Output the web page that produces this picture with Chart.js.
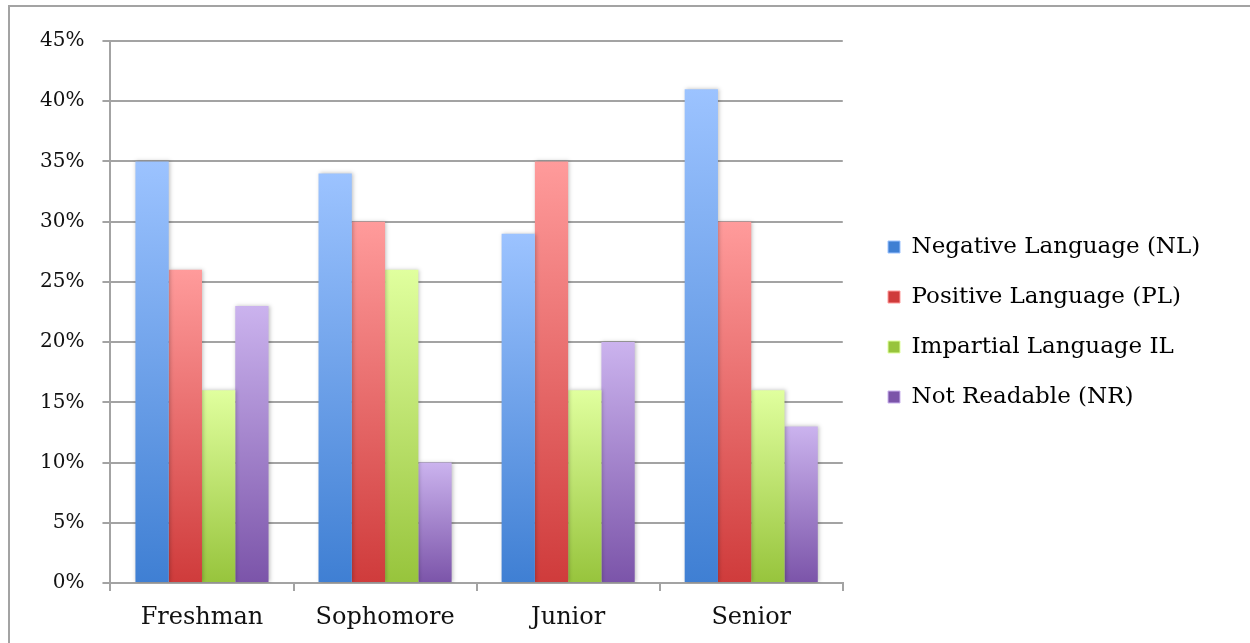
<!DOCTYPE html>
<html>
<head>
<meta charset="utf-8">
<script src="https://cdn.jsdelivr.net/npm/chart.js@4.4.1/dist/chart.umd.min.js"></script>
<style>
  body { margin: 0; background: #fff; }
  #wrap { position: relative; width: 1250px; height: 643px; }
  #frame { position: absolute; left: 8px; top: 5px; right: -4px; bottom: -4px;
           border-top: 2px solid #a3a3a3; border-left: 2px solid #a3a3a3; }
  canvas { position: absolute; left: 0; top: 0; }
</style>
</head>
<body>
<div id="wrap">
  <div id="frame"></div>
  <canvas id="myBarChart" width="1250" height="643"></canvas>
</div>
<script>
const categories = ['Freshman', 'Sophomore', 'Junior', 'Senior'];
const negativeLang = [35, 34, 29, 41];
const positiveLang = [26, 30, 35, 30];
const impartialLang = [16, 26, 16, 16];
const notReadable = [23, 10, 20, 13];

// top colour, bottom colour for each series
const colours = [
  ['#9cc3ff', '#3f7fd3'],
  ['#ff9b9b', '#cf3b3b'],
  ['#e0ff9e', '#97c43c'],
  ['#cbb3ee', '#7b54a9']
];

function barGradient(i) {
  return function (context) {
    const chart = context.chart;
    const y = chart.scales.y;
    if (!y || context.raw === undefined) return colours[i][1];
    const top = y.getPixelForValue(context.raw);
    const bottom = y.getPixelForValue(0);
    const g = chart.ctx.createLinearGradient(0, top, 0, bottom);
    g.addColorStop(0, colours[i][0]);
    g.addColorStop(1, colours[i][1]);
    return g;
  };
}

const barShadow = {
  id: 'barShadow',
  beforeDatasetsDraw(chart) {
    const c = chart.ctx;
    c.save();
    c.shadowColor = 'rgba(0,0,0,0.25)';
    c.shadowBlur = 4;
    c.shadowOffsetX = 1;
    c.shadowOffsetY = 0;
  },
  afterDatasetsDraw(chart) {
    chart.ctx.restore();
  }
};

// move the legend away from the plot and up a little, like the original
const legendSpot = {
  id: 'legendSpot',
  afterLayout(chart) {
    const lg = chart.legend;
    if (!lg) return;
    const w = lg.right - lg.left;
    lg.left = 861;
    lg.right = 861 + w;
    lg.top -= 20;
    lg.bottom -= 20;
  }
};

const serif = "'DejaVu Serif', serif";

const ctx = document.getElementById('myBarChart').getContext('2d');
const myBarChart = new Chart(ctx, {
  type: 'bar',
  data: {
    labels: categories,
    datasets: [
      { label: 'Negative Language (NL)', data: negativeLang, backgroundColor: barGradient(0) },
      { label: 'Positive Language (PL)', data: positiveLang, backgroundColor: barGradient(1) },
      { label: 'Impartial Language IL', data: impartialLang, backgroundColor: barGradient(2) },
      { label: 'Not Readable (NR)', data: notReadable, backgroundColor: barGradient(3) }
    ]
  },
  options: {
    responsive: false,
    animation: false,
    layout: { padding: { left: 22, top: 41, right: 58, bottom: 0 } },
    datasets: {
      bar: { barPercentage: 1, categoryPercentage: 0.727 }
    },
    plugins: {
      tooltip: { enabled: false },
      legend: {
        position: 'right',
        maxWidth: 500,
        labels: {
          color: '#111',
          font: { family: serif, size: 23 },
          boxWidth: 12,
          boxHeight: 12,
          padding: 27,
          generateLabels(chart) {
            return chart.data.datasets.map((ds, i) => ({
              text: ds.label,
              fillStyle: colours[i][1],
              strokeStyle: colours[i][0],
              lineWidth: 1,
              datasetIndex: i
            }));
          }
        }
      }
    },
    scales: {
      x: {
        grid: { display: true, drawOnChartArea: false, drawTicks: true, tickLength: 8, color: '#a3a3a3', lineWidth: 2 },
        border: { color: '#a3a3a3', width: 2 },
        ticks: { color: '#111', font: { family: serif, size: 24 }, padding: 12 },
        afterFit(scale) { scale.height = 60; }
      },
      y: {
        min: 0,
        max: 45,
        grid: { color: '#a3a3a3', lineWidth: 2, tickLength: 8 },
        border: { color: '#a3a3a3', width: 2 },
        ticks: {
          stepSize: 5,
          color: '#111',
          font: { family: serif, size: 20 },
          padding: 18,
          callback: v => v + '%'
        }
      }
    }
  },
  plugins: [barShadow, legendSpot]
});
</script>
</body>
</html>
